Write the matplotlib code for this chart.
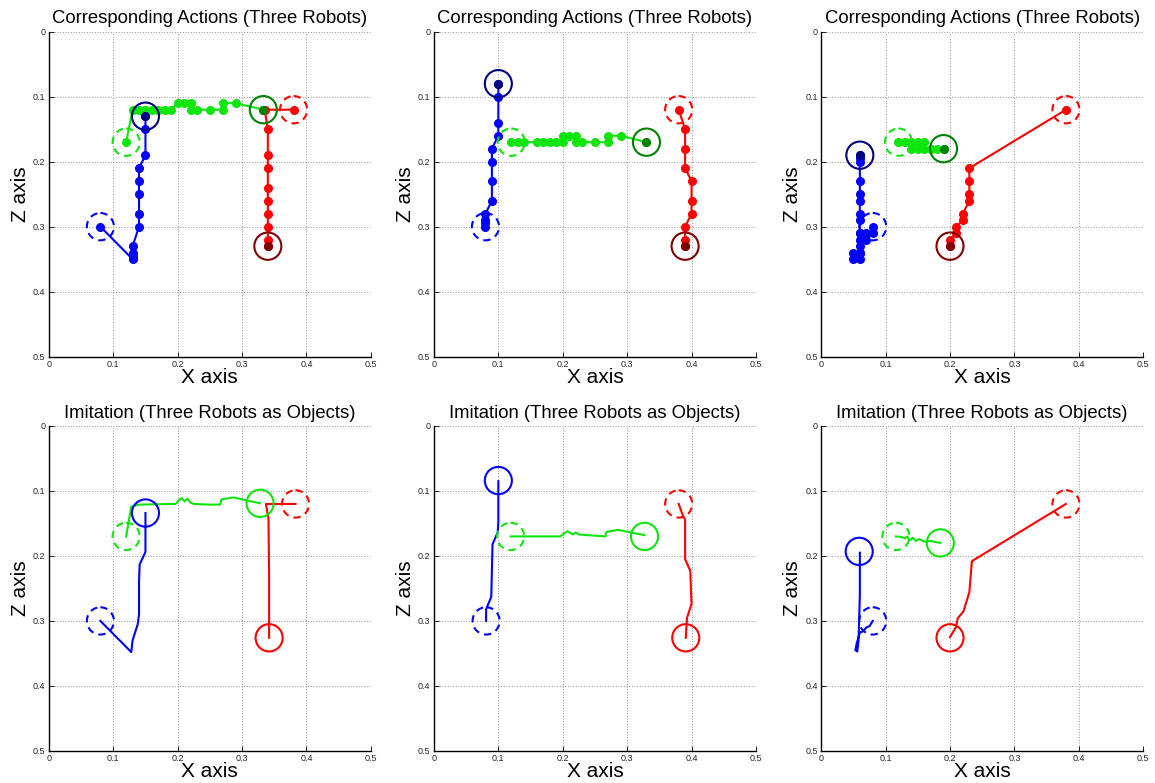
import matplotlib
matplotlib.use("Agg")
import matplotlib.pyplot as plt
from matplotlib.patches import Circle

plt.rcParams['font.family'] = ['Liberation Sans', 'DejaVu Sans']

# ---------------- data: top row (Corresponding Actions, dotted trajectories) ----------------
t1_blue_x = [0.08, 0.13, 0.13, 0.13, 0.13, 0.14, 0.14, 0.14, 0.14, 0.14, 0.15, 0.15, 0.15]
t1_blue_z = [0.30, 0.35, 0.345, 0.34, 0.33, 0.30, 0.28, 0.25, 0.23, 0.21, 0.19, 0.15, 0.13]
t1_green_x = [0.12, 0.13, 0.14, 0.15, 0.16, 0.17, 0.18, 0.19, 0.20, 0.21, 0.22, 0.22, 0.23, 0.25, 0.27, 0.27, 0.29, 0.333]
t1_green_z = [0.17, 0.12, 0.12, 0.12, 0.12, 0.12, 0.12, 0.12, 0.11, 0.11, 0.11, 0.12, 0.12, 0.12, 0.12, 0.11, 0.11, 0.12]
t1_red_x = [0.38, 0.335, 0.34, 0.34, 0.34, 0.34, 0.34, 0.34, 0.34, 0.34, 0.34]
t1_red_z = [0.12, 0.12, 0.15, 0.19, 0.21, 0.24, 0.26, 0.28, 0.30, 0.32, 0.33]

t2_blue_x = [0.08, 0.08, 0.08, 0.08, 0.09, 0.09, 0.09, 0.09, 0.10, 0.10, 0.10, 0.10]
t2_blue_z = [0.30, 0.295, 0.29, 0.28, 0.26, 0.23, 0.20, 0.18, 0.16, 0.14, 0.10, 0.08]
t2_green_x = [0.12, 0.13, 0.14, 0.16, 0.17, 0.18, 0.19, 0.20, 0.20, 0.21, 0.22, 0.22, 0.23, 0.25, 0.27, 0.27, 0.29, 0.33]
t2_green_z = [0.17, 0.17, 0.17, 0.17, 0.17, 0.17, 0.17, 0.17, 0.16, 0.16, 0.16, 0.17, 0.17, 0.17, 0.17, 0.16, 0.16, 0.17]
t2_red_x = [0.38, 0.39, 0.39, 0.39, 0.40, 0.40, 0.40, 0.39, 0.39, 0.39]
t2_red_z = [0.12, 0.15, 0.18, 0.21, 0.23, 0.26, 0.28, 0.30, 0.32, 0.33]

t3_blue_x = [0.08, 0.08, 0.07, 0.07, 0.06, 0.06, 0.06, 0.06, 0.05, 0.05, 0.06, 0.06, 0.06, 0.06, 0.06, 0.06, 0.06, 0.06, 0.06, 0.06, 0.06]
t3_blue_z = [0.30, 0.31, 0.32, 0.31, 0.31, 0.32, 0.33, 0.34, 0.34, 0.35, 0.35, 0.34, 0.31, 0.29, 0.28, 0.26, 0.25, 0.23, 0.20, 0.195, 0.19]
t3_green_x = [0.12, 0.13, 0.14, 0.14, 0.15, 0.15, 0.16, 0.16, 0.17, 0.18, 0.19]
t3_green_z = [0.17, 0.17, 0.17, 0.18, 0.17, 0.18, 0.17, 0.18, 0.18, 0.18, 0.18]
t3_red_x = [0.38, 0.23, 0.23, 0.23, 0.23, 0.22, 0.22, 0.21, 0.21, 0.20, 0.20]
t3_red_z = [0.12, 0.21, 0.23, 0.25, 0.26, 0.28, 0.29, 0.30, 0.31, 0.32, 0.33]

# ---------------- data: bottom row (Imitation, continuous trajectories) ----------------
b1_blue_x = [0.08, 0.128, 0.13, 0.138, 0.14, 0.14, 0.141, 0.15, 0.15]
b1_blue_z = [0.30, 0.348, 0.33, 0.305, 0.29, 0.24, 0.213, 0.194, 0.134]
b1_green_x = [0.12, 0.128, 0.14, 0.197, 0.202, 0.206, 0.211, 0.215, 0.22, 0.225, 0.247, 0.266, 0.268, 0.287, 0.328]
b1_green_z = [0.17, 0.124, 0.121, 0.12, 0.114, 0.111, 0.116, 0.112, 0.118, 0.12, 0.121, 0.121, 0.113, 0.11, 0.119]
b1_red_x = [0.383, 0.337, 0.341, 0.342, 0.342]
b1_red_z = [0.12, 0.12, 0.142, 0.234, 0.326]

b2_blue_x = [0.081, 0.081, 0.089, 0.091, 0.099, 0.10, 0.10]
b2_blue_z = [0.30, 0.282, 0.263, 0.182, 0.164, 0.149, 0.085]
b2_green_x = [0.119, 0.196, 0.207, 0.216, 0.22, 0.225, 0.266, 0.268, 0.286, 0.327]
b2_green_z = [0.17, 0.17, 0.162, 0.167, 0.164, 0.167, 0.17, 0.163, 0.16, 0.168]
b2_red_x = [0.38, 0.387, 0.39, 0.39, 0.398, 0.40, 0.393, 0.391]
b2_red_z = [0.12, 0.139, 0.144, 0.205, 0.223, 0.274, 0.295, 0.326]

b3_blue_x = [0.08, 0.075, 0.07, 0.065, 0.06, 0.055, 0.053, 0.056, 0.058, 0.06, 0.06]
b3_blue_z = [0.30, 0.308, 0.31, 0.316, 0.318, 0.335, 0.345, 0.347, 0.33, 0.26, 0.195]
b3_green_x = [0.116, 0.125, 0.13, 0.133, 0.137, 0.142, 0.147, 0.152, 0.16, 0.17, 0.185]
b3_green_z = [0.17, 0.171, 0.173, 0.17, 0.176, 0.172, 0.177, 0.174, 0.178, 0.177, 0.18]
b3_red_x = [0.38, 0.234, 0.23, 0.221, 0.212, 0.209, 0.20]
b3_red_z = [0.12, 0.208, 0.256, 0.285, 0.296, 0.31, 0.325]

# end-circle centres for bottom row (blue, green, red)
b1_end = [(0.15, 0.134), (0.328, 0.119), (0.342, 0.326)]
b2_end = [(0.10, 0.084), (0.327, 0.17), (0.391, 0.326)]
b3_end = [(0.059, 0.193), (0.185, 0.18), (0.20, 0.326)]

ticks = [0, 0.1, 0.2, 0.3, 0.4, 0.5]
tick_labels = ['0', '0.1', '0.2', '0.3', '0.4', '0.5']
top_title = 'Corresponding Actions (Three Robots)'
bottom_title = 'Imitation (Three Robots as Objects)'

BLUE = (0, 0, 1)
GREEN = (0.05, 0.9, 0.05)
RED = (1, 0, 0)
DBLUE = (0, 0, 0.5)
DGREEN = (0, 0.5, 0)
DRED = (0.5, 0, 0)
R = 0.021

fig = plt.figure(figsize=(11.55, 7.83), dpi=100)
lefts = [0.0423, 0.3757, 0.7110]
bottoms = [0.5445, 0.0410]
W, H = 0.2788, 0.4150


def setup(ax, title):
    ax.set_xlim(0, 0.5)
    ax.set_ylim(0.5, 0)
    ax.set_xticks(ticks)
    ax.set_xticklabels(tick_labels)
    ax.set_yticks(ticks)
    ax.set_yticklabels(tick_labels)
    ax.tick_params(direction='in', length=3.5, width=0.6, labelsize=6.5, pad=2.5,
                   labelcolor='0.15')
    ax.grid(True, linestyle=(0, (1, 2.2)), color='0.45', linewidth=0.6)
    ax.spines['top'].set_visible(False)
    ax.spines['right'].set_visible(False)
    ax.spines['left'].set_linewidth(1.0)
    ax.spines['bottom'].set_linewidth(1.0)
    ax.set_xlabel('X axis', fontsize=15, labelpad=-1)
    ax.set_ylabel('Z axis', fontsize=15, labelpad=2)
    ax.set_title(title, fontsize=13.3, pad=6)
    ax.set_axisbelow(True)


def circ(ax, x, z, color, dashed):
    ax.add_patch(Circle((x, z), R, fill=False, edgecolor=color, linewidth=1.5,
                        linestyle=(0, (3.5, 2.5)) if dashed else '-', zorder=5))


top_data = [
    (t1_blue_x, t1_blue_z, t1_green_x, t1_green_z, t1_red_x, t1_red_z),
    (t2_blue_x, t2_blue_z, t2_green_x, t2_green_z, t2_red_x, t2_red_z),
    (t3_blue_x, t3_blue_z, t3_green_x, t3_green_z, t3_red_x, t3_red_z),
]
bottom_data = [
    (b1_blue_x, b1_blue_z, b1_green_x, b1_green_z, b1_red_x, b1_red_z, b1_end),
    (b2_blue_x, b2_blue_z, b2_green_x, b2_green_z, b2_red_x, b2_red_z, b2_end),
    (b3_blue_x, b3_blue_z, b3_green_x, b3_green_z, b3_red_x, b3_red_z, b3_end),
]

for i, d in enumerate(top_data):
    ax = fig.add_axes([lefts[i], bottoms[0], W, H])
    setup(ax, top_title)
    series = [(d[0], d[1], BLUE, DBLUE), (d[2], d[3], GREEN, DGREEN), (d[4], d[5], RED, DRED)]
    for xs, zs, c, dc in series:
        ax.plot(xs, zs, '-o', color=c, linewidth=1.5, markersize=5.5, zorder=3)
        ax.plot(xs[-1], zs[-1], 'o', color=dc, markersize=5.5, zorder=4)
        circ(ax, xs[0], zs[0], c, True)
        circ(ax, xs[-1], zs[-1], dc, False)

for i, d in enumerate(bottom_data):
    ax = fig.add_axes([lefts[i], bottoms[1], W, H])
    setup(ax, bottom_title)
    series = [(d[0], d[1], BLUE), (d[2], d[3], GREEN), (d[4], d[5], RED)]
    for k, (xs, zs, c) in enumerate(series):
        ax.plot(xs, zs, '-', color=c, linewidth=1.5, zorder=3)
        circ(ax, xs[0], zs[0], c, True)
        ex, ez = d[6][k]
        circ(ax, ex, ez, c, False)

fig.savefig('out.png', dpi=100)
